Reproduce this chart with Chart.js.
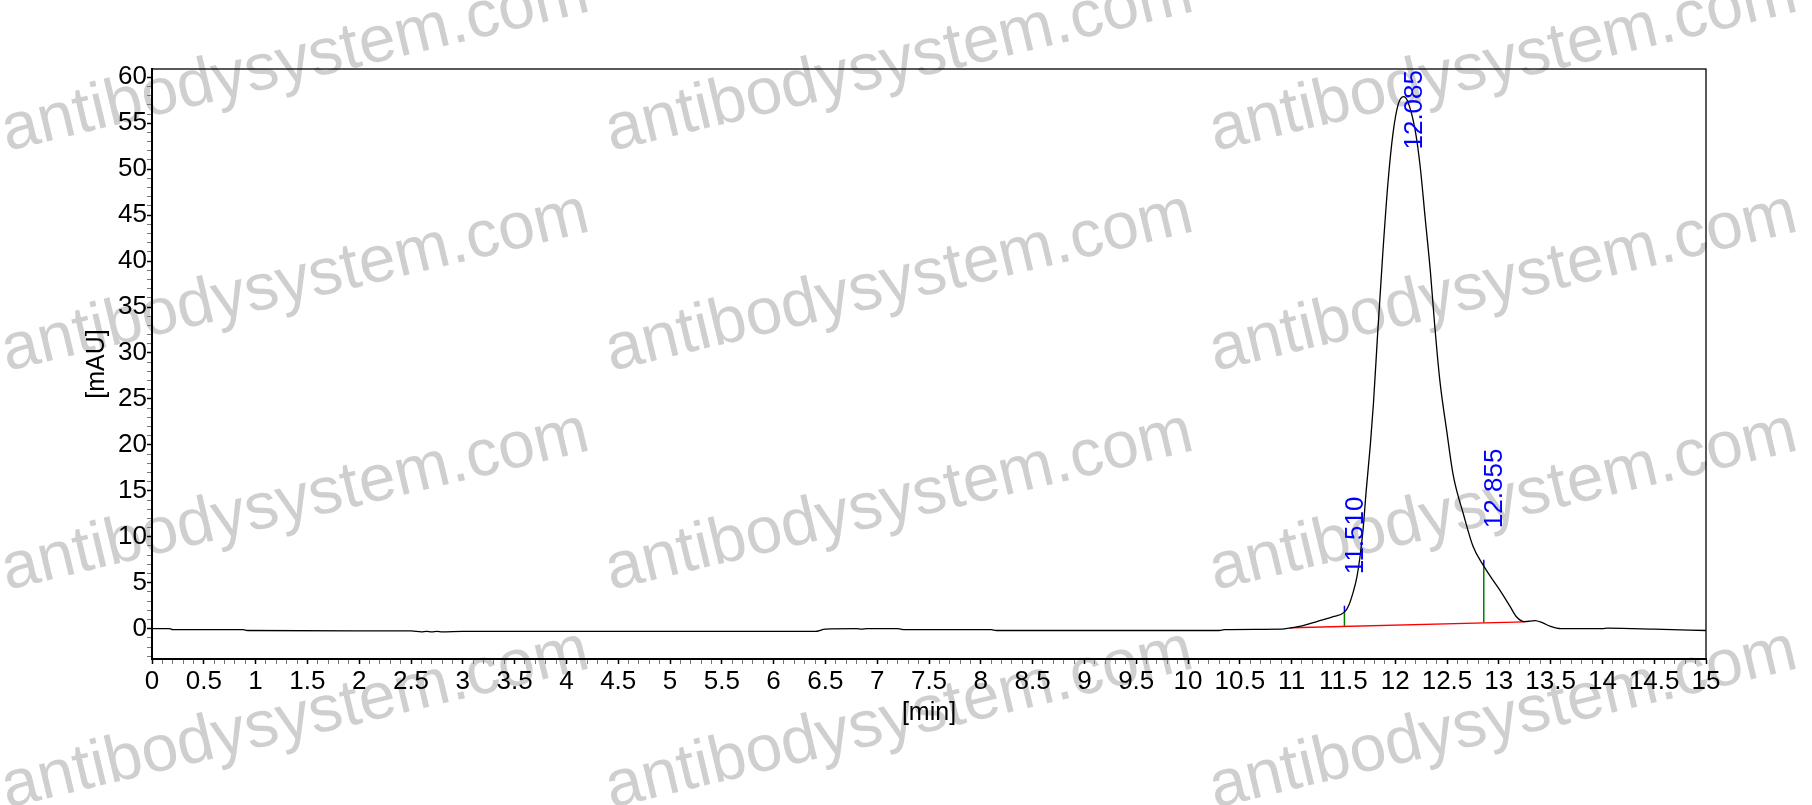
<!DOCTYPE html>
<html>
<head>
<meta charset="utf-8">
<script src="https://cdn.jsdelivr.net/npm/chart.js@4.4.1/dist/chart.umd.min.js"></script>
<style>
  html, body { margin: 0; padding: 0; background: #fff; }
  #wrap { width: 1812px; height: 805px; position: relative; }
</style>
</head>
<body>
<div id="wrap"><canvas id="chrom"></canvas></div>
<script>
// retention time [min] and detector signal [mAU]
const retTime = [
  0.0, 0.17, 0.2, 0.88, 0.92, 2.5, 2.6, 2.65, 2.7, 2.75, 2.8, 3.0, 4.0, 6.4, 6.5,
  6.8, 6.85, 6.9, 7.2, 7.25, 8.1, 8.15, 10.3, 10.35, 10.9, 11.0, 11.1, 11.25, 11.4,
  11.51, 11.55, 11.6, 11.63, 11.66, 11.69, 11.72, 11.76, 11.79, 11.83, 11.88, 11.93,
  11.98, 12.03, 12.08, 12.12, 12.19, 12.24, 12.29, 12.34, 12.38, 12.43, 12.5, 12.56,
  12.66, 12.75, 12.855, 12.93, 13.01, 13.11, 13.17, 13.25, 13.35, 13.42, 13.5, 13.6,
  14.0, 14.05, 14.5, 15.0
];
const signal = [
  0.0, 0.0, -0.1, -0.1, -0.2, -0.25, -0.35, -0.3, -0.35, -0.3, -0.35, -0.3, -0.3, -0.3, -0.05,
  0.0, -0.05, 0.0, 0.0, -0.1, -0.1, -0.2, -0.2, -0.1, -0.05, 0.1, 0.3, 0.8, 1.3,
  1.8, 2.5, 4.2, 5.6, 7.8, 10.8, 15.0, 20.0, 24.5, 32.0, 40.8, 48.5,
  54.0, 57.1, 57.9, 57.4, 54.4, 50.4, 44.6, 38.8, 33.2, 27.1, 21.3, 16.7,
  12.4, 9.0, 6.8, 5.5, 4.2, 2.4, 1.3, 0.76, 0.87, 0.65, 0.25, 0.0,
  0.0, 0.05, -0.05, -0.2
];

// integration baseline and peak marks
const baseT = [11.0, 13.25];
const baseV = [0.1, 0.75];
const peakTimes = [11.510, 12.085, 12.855];
const peakHeights = [1.8, 57.9, 6.8];
const dropT = [11.51, 12.855];
const dropBottom = [0.25, 0.64];
const dropTop = [1.8, 6.8];

const xTicksStep = 0.5;
const yTicksStep = 5;

const FONT = 'Liberation Sans, Arial, sans-serif';

function pts(xs, ys) {
  return xs.map((x, i) => ({ x: x, y: ys[i] }));
}

const datasets = [
  {
    data: pts(retTime, signal),
    borderColor: '#000',
    borderWidth: 1.3,
    pointRadius: 0,
    cubicInterpolationMode: 'monotone',
    order: 1
  },
  {
    data: pts(baseT, baseV),
    borderColor: '#ff0000',
    borderWidth: 1.3,
    pointRadius: 0,
    order: 2
  }
];
dropT.forEach(function (t, i) {
  datasets.push({
    data: pts([t, t], [dropBottom[i], dropTop[i]]),
    borderColor: '#008000',
    borderWidth: 1.5,
    pointRadius: 0,
    order: 3
  });
  datasets.push({
    data: pts([t, t], [dropTop[i], dropTop[i] + 0.7]),
    borderColor: '#0000ff',
    borderWidth: 1.5,
    pointRadius: 0,
    order: 3
  });
});

// light rotated site watermark behind the plot
const watermark = {
  id: 'watermark',
  beforeDraw(chart) {
    const c = chart.ctx;
    c.save();
    c.fillStyle = '#fff';
    c.fillRect(0, 0, chart.width, chart.height);
    c.fillStyle = '#cfcfcf';
    c.font = '66px ' + FONT;
    c.textBaseline = 'alphabetic';
    [7, 611, 1215].forEach(function (x) {
      [151, 371, 590, 808].forEach(function (y) {
        c.save();
        c.translate(x, y);
        c.rotate(-13.5 * Math.PI / 180);
        c.fillText('antibodysystem.com', 0, 0);
        c.restore();
      });
    });
    c.restore();
  }
};

// frame and retention time labels
const peakMarks = {
  id: 'peakMarks',
  afterDatasetsDraw(chart) {
    const c = chart.ctx;
    const a = chart.chartArea;
    const xs = chart.scales.x, ys = chart.scales.y;
    c.save();
    c.strokeStyle = '#000';
    c.lineWidth = 1.3;
    c.strokeRect(a.left, a.top, a.right - a.left, a.bottom - a.top);

    c.font = '26px ' + FONT;
    c.fillStyle = '#0000ff';
    c.textBaseline = 'middle';
    c.textAlign = 'left';
    peakTimes.forEach(function (t, i) {
      const txt = t.toFixed(3);
      const w = c.measureText(txt).width;
      const px = xs.getPixelForValue(t) + 11;
      let bottom = ys.getPixelForValue(peakHeights[i]) - 38;
      if (bottom - w < a.top + 1) bottom = a.top + 1 + w;
      c.save();
      c.translate(px, bottom);
      c.rotate(-Math.PI / 2);
      c.fillText(txt, 0, 0);
      c.restore();
    });
    c.restore();
  }
};

function isStep(v, step) {
  const r = v / step;
  return Math.abs(r - Math.round(r)) < 1e-6;
}

new Chart(document.getElementById('chrom'), {
  type: 'line',
  data: { datasets: datasets },
  plugins: [watermark, peakMarks],
  options: {
    responsive: true,
    maintainAspectRatio: false,
    animation: false,
    parsing: false,
    layout: { padding: { top: 69, right: 106, left: 0, bottom: 0 } },
    plugins: { legend: { display: false }, tooltip: { enabled: false } },
    scales: {
      x: {
        type: 'linear',
        min: 0,
        max: 15,
        afterFit(scale) { scale.height = 146; },
        border: { color: '#000', width: 2 },
        grid: {
          drawOnChartArea: false,
          tickLength: 5,
          tickColor: (ctx) => isStep(ctx.tick.value, xTicksStep) ? '#000' : '#777',
          tickWidth: (ctx) => isStep(ctx.tick.value, xTicksStep) ? 1.5 : 1
        },
        ticks: {
          stepSize: 0.1,
          autoSkip: false,
          maxRotation: 0,
          minRotation: 0,
          includeBounds: false,
          padding: 2,
          color: '#000',
          font: { family: FONT, size: 26 },
          callback: (v) => isStep(v, xTicksStep) ? String(Math.round(v * 10) / 10) : ''
        },
        title: {
          display: true,
          text: '[min]',
          color: '#000',
          font: { family: FONT, size: 25 },
          padding: { top: 0, bottom: 77 }
        }
      },
      y: {
        type: 'linear',
        min: -3.3,
        max: 60.9,
        afterFit(scale) { scale.width = 152; },
        border: { color: '#000', width: 2 },
        grid: {
          drawOnChartArea: false,
          tickLength: 5,
          tickColor: (ctx) => isStep(ctx.tick.value, yTicksStep) ? '#000' : '#777',
          tickWidth: (ctx) => isStep(ctx.tick.value, yTicksStep) ? 1.5 : 1
        },
        ticks: {
          stepSize: 1,
          autoSkip: false,
          includeBounds: false,
          padding: 0,
          color: '#000',
          font: { family: FONT, size: 26 },
          callback: (v) => (isStep(v, yTicksStep) && v >= 0) ? String(Math.round(v)) : ''
        },
        title: {
          display: true,
          text: '[mAU]',
          color: '#000',
          font: { family: FONT, size: 25 },
          padding: { top: 82, bottom: 0 }
        }
      }
    }
  }
});
</script>
</body>
</html>
